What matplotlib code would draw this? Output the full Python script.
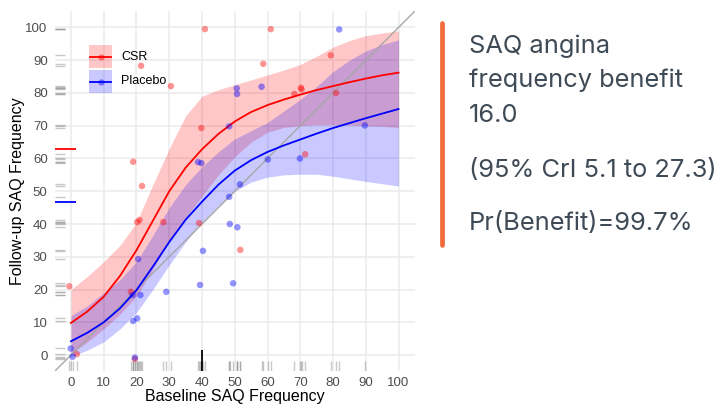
import matplotlib
matplotlib.use("Agg")
import matplotlib.pyplot as plt
from matplotlib.patches import Rectangle
from matplotlib.lines import Line2D

# ---------------- data ----------------
csr_baseline = [-0.5, 1.8, 19.5, 18.3, 20.2, 20.9, 28.2, 39.1, 51.7, 19.0, 21.7, 21.4,
                30.5, 40.9, 39.8, 61.0, 58.7, 79.3, 68.2, 70.2, 70.4, 80.9, 71.5]
csr_followup = [21.0, 0.3, -1.2, 19.3, 40.6, 41.2, 40.6, 40.3, 32.1, 59.0, 51.6, 88.3,
                82.1, 99.5, 69.3, 99.5, 88.9, 91.5, 79.7, 81.6, 81.1, 80.0, 61.3]

placebo_baseline = [-0.1, 0.5, 19.5, 19.0, 20.2, 18.8, 21.2, 20.5, 29.1, 39.4, 40.3, 48.5, 50.8,
                    49.5, 38.8, 39.8, 48.3, 50.6, 50.7, 51.6, 48.3, 60.1, 69.9, 58.2, 81.9, 89.7]
placebo_followup = [2.0, -0.5, -0.8, 10.4, 11.2, 18.3, 18.3, 29.3, 19.3, 21.4, 31.8, 40.0, 39.0,
                    21.9, 58.9, 58.6, 69.8, 81.4, 79.7, 52.1, 48.3, 59.7, 60.0, 81.9, 99.4, 70.1]

curve_x = [0, 5, 10, 15, 20, 25, 30, 35, 40, 45, 50, 55, 60, 65, 70, 75, 80, 85, 90, 95, 100]
csr_mean = [9.8, 13.3, 17.8, 24.2, 32.0, 41.0, 50.0, 57.2, 62.8, 67.5, 71.3, 74.2, 76.3,
            78.0, 79.5, 80.9, 82.1, 83.3, 84.4, 85.4, 86.2]
csr_upper = [20.0, 24.0, 28.5, 33.5, 40.5, 52.0, 63.0, 73.0, 79.0, 81.0, 82.5, 84.0, 85.5,
             87.0, 88.7, 91.2, 94.0, 96.0, 97.5, 98.3, 99.0]
csr_lower = [0.5, 4.0, 8.0, 12.5, 18.0, 26.0, 35.0, 42.0, 48.5, 55.0, 60.5, 65.0, 68.0,
             69.5, 70.0, 70.3, 70.3, 70.2, 70.0, 69.8, 69.5]

placebo_mean = [4.2, 6.8, 10.0, 14.3, 19.8, 27.0, 34.5, 41.3, 46.8, 52.0, 56.3, 59.5, 62.0,
                64.0, 65.8, 67.6, 69.3, 70.8, 72.3, 73.7, 75.1]
placebo_upper = [12.0, 15.0, 19.0, 23.0, 28.5, 36.5, 45.0, 52.0, 57.5, 62.0, 66.0, 68.5, 71.0,
                 74.5, 78.0, 82.0, 86.5, 90.0, 92.8, 94.8, 96.2]
placebo_lower = [-0.5, 1.5, 4.0, 8.0, 13.0, 20.0, 27.5, 34.5, 40.5, 45.5, 50.0, 52.8, 54.3,
                 55.0, 55.2, 55.2, 54.6, 53.8, 53.0, 52.3, 51.6]

baseline_ref = 40.1
csr_ref = 62.8
placebo_ref = 46.8

ticks = [0, 10, 20, 30, 40, 50, 60, 70, 80, 90, 100]
group_labels = ["CSR", "Placebo"]

text_lines = ["SAQ angina", "frequency benefit", "16.0",
              "(95% CrI 5.1 to 27.3)", "Pr(Benefit)=99.7%"]

# ---------------- figure ----------------
W, H = 720, 408
fig = plt.figure(figsize=(W / 100, H / 100), dpi=100)
ax = fig.add_axes([54.6 / W, 1 - 371.4 / H, 360.3 / W, 360.3 / H])
ax.set_xlim(-5, 105)
ax.set_ylim(-5, 105)
for s in ax.spines.values():
    s.set_visible(False)
ax.set_xticks(ticks)
ax.set_yticks(ticks)
ax.grid(True, color="#EBEBEB", lw=1.1)
ax.set_axisbelow(True)
ax.tick_params(length=0, labelsize=9.5, labelcolor="#4D4D4D")
ax.tick_params(axis="x", pad=4)
ax.tick_params(axis="y", pad=5)
for lab in ax.get_xticklabels() + ax.get_yticklabels():
    lab.set_family("Liberation Sans")

RED = "#FF0000"
BLUE = "#0000FF"
RED_A, BLUE_A = 0.22, 0.21

ax.fill_between(curve_x, csr_lower, csr_upper, color=RED, alpha=RED_A, lw=0, zorder=1)
ax.fill_between(curve_x, placebo_lower, placebo_upper, color=BLUE, alpha=BLUE_A, lw=0, zorder=1)
ax.axline((0, 0), slope=1, color="#A6A6A6", lw=1.0, zorder=2)
ax.plot(curve_x, csr_mean, color=RED, lw=1.3, zorder=3)
ax.plot(curve_x, placebo_mean, color=BLUE, lw=1.3, zorder=3)
ax.scatter(csr_baseline, csr_followup, s=22, color=RED, alpha=0.42, edgecolors="none", zorder=4)
ax.scatter(placebo_baseline, placebo_followup, s=22, color=BLUE, alpha=0.42, edgecolors="none", zorder=4)

# rugs
all_x = csr_baseline + placebo_baseline
all_y = csr_followup + placebo_followup
ax.vlines(all_x, 0, 0.03, transform=ax.get_xaxis_transform(), color="#888888", alpha=0.45, lw=1.0, zorder=2)
ax.hlines(all_y, 0, 0.03, transform=ax.get_yaxis_transform(), color="#888888", alpha=0.45, lw=1.0, zorder=2)
ax.vlines([baseline_ref], 0, 0.06, transform=ax.get_xaxis_transform(), color="black", lw=1.3, zorder=5)
ax.hlines([csr_ref], 0, 0.06, transform=ax.get_yaxis_transform(), color=RED, lw=1.3, zorder=5)
ax.hlines([placebo_ref], 0, 0.06, transform=ax.get_yaxis_transform(), color=BLUE, lw=1.3, zorder=5)

ax.set_xlabel("Baseline SAQ Frequency", fontsize=11.5, family="Liberation Sans", va="top")
ax.xaxis.set_label_coords(0.5, -(389.5 - 371.4) / 360.3)
ax.set_ylabel("Follow-up SAQ Frequency", fontsize=11.5, family="Liberation Sans")
ax.yaxis.set_label_coords(-(54.6 - 25) / 360.3, 0.5)

# legend (drawn manually, ggplot style keys)
key_x0, key_w, key_h, key_top, key_step = 89, 23, 23, 45, 25
for i, (lab, col, a) in enumerate(zip(group_labels, [RED, BLUE], [RED_A, BLUE_A])):
    top = key_top + i * key_step
    fig.add_artist(Rectangle((key_x0 / W, 1 - (top + key_h) / H), key_w / W, key_h / H,
                             transform=fig.transFigure, facecolor=col, alpha=a, lw=0))
    cy = 1 - (top + key_h / 2) / H
    fig.add_artist(Line2D([(key_x0 + 1) / W, (key_x0 + key_w - 1) / W], [cy, cy],
                          transform=fig.transFigure, color=col, lw=1.3))
    fig.add_artist(Line2D([(key_x0 + key_w / 2) / W], [cy], transform=fig.transFigure,
                          marker="o", markersize=4.5, markerfacecolor=col, alpha=0.45,
                          markeredgecolor="none", lw=0))
    fig.text(121 / W, cy, lab, fontsize=9, family="Liberation Sans", va="center", ha="left")

# right-hand text
TXT = "#3E4A56"
baselines = [52.7, 87.0, 121.7, 176.7, 230.0]
for t, b in zip(text_lines, baselines):
    fig.text(469 / W, 1 - b / H, t, fontsize=18.3, family="Inter", color=TXT, va="baseline", ha="left")

fig.add_artist(Line2D([441.7 / W, 441.7 / W], [1 - 23 / H, 1 - 245 / H], transform=fig.transFigure,
                      color="#F26B3C", lw=3.4, solid_capstyle="round"))

fig.savefig("out.png", dpi=100)
